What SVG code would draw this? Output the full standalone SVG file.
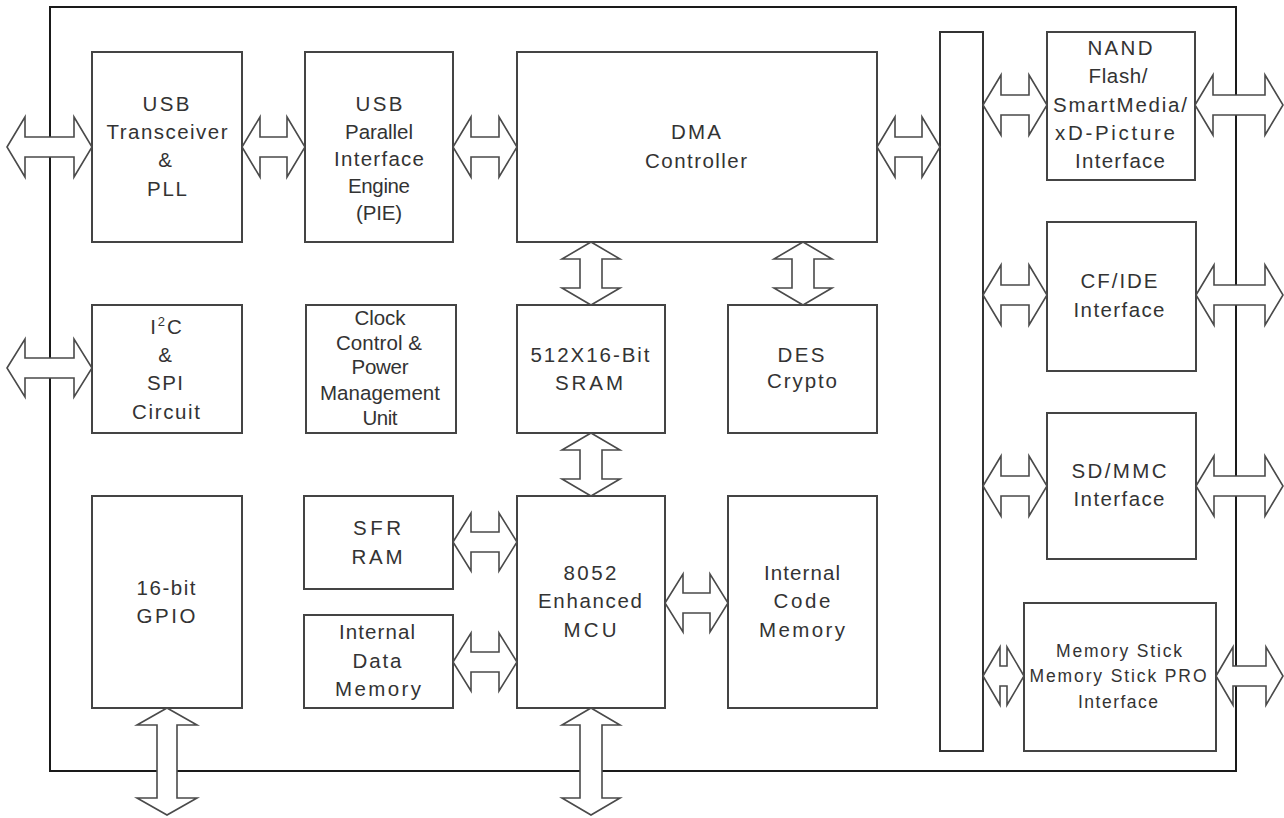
<svg xmlns="http://www.w3.org/2000/svg" width="1284" height="818" viewBox="0 0 1284 818">
<style>
.frame{fill:none;stroke:#1a1a1a;stroke-width:2}
.box{fill:#fff;stroke:#444;stroke-width:2}
.bus{fill:#fff;stroke:#333;stroke-width:2}
.arr{fill:#fff;stroke:#4a4a4a;stroke-width:1.6;stroke-linejoin:miter}
text{font-family:"Liberation Sans",Arial,sans-serif;font-size:20.5px;fill:#333;text-anchor:middle}
text.sm{font-size:17.5px}
</style>
<rect x="0" y="0" width="1284" height="818" fill="#fff"/>
<rect class="frame" x="50" y="7" width="1186" height="764"/>

<g id="bus"><rect class="bus" x="940" y="32" width="43" height="719"/></g>

<g id="usb-transceiver">
<rect class="box" x="92" y="52" width="150" height="190"/>
<text x="166" y="111" textLength="47" lengthAdjust="spacing">USB</text>
<text x="167" y="139" textLength="121" lengthAdjust="spacing">Transceiver</text>
<text x="165" y="167">&amp;</text>
<text x="167" y="196" textLength="40" lengthAdjust="spacing">PLL</text>
</g>

<g id="usb-pie">
<rect class="box" x="305" y="52" width="148" height="190"/>
<text x="379" y="111" textLength="47" lengthAdjust="spacing">USB</text>
<text x="379" y="139" textLength="68" lengthAdjust="spacing">Parallel</text>
<text x="379" y="166" textLength="90" lengthAdjust="spacing">Interface</text>
<text x="379" y="193" textLength="62" lengthAdjust="spacing">Engine</text>
<text x="379" y="220" textLength="46" lengthAdjust="spacing">(PIE)</text>
</g>

<g id="dma">
<rect class="box" x="517" y="52" width="360" height="190"/>
<text x="696" y="139" textLength="50" lengthAdjust="spacing">DMA</text>
<text x="696" y="168" textLength="102" lengthAdjust="spacing">Controller</text>
</g>

<g id="nand">
<rect class="box" x="1047" y="32" width="148" height="148"/>
<text x="1120" y="55" textLength="65" lengthAdjust="spacing">NAND</text>
<text x="1118" y="83" textLength="59" lengthAdjust="spacing">Flash/</text>
<text x="1120" y="112" textLength="134" lengthAdjust="spacing">SmartMedia/</text>
<text x="1115" y="140" textLength="120" lengthAdjust="spacing">xD-Picture</text>
<text x="1120" y="168" textLength="90" lengthAdjust="spacing">Interface</text>
</g>

<g id="i2c-spi">
<rect class="box" x="92" y="305" width="150" height="128"/>
<text x="166" y="334"><tspan>I</tspan><tspan font-size="13" dx="2" dy="-8">2</tspan><tspan dx="2" dy="8">C</tspan></text>
<text x="165" y="362">&amp;</text>
<text x="165" y="390" textLength="36" lengthAdjust="spacing">SPI</text>
<text x="166" y="419" textLength="68" lengthAdjust="spacing">Circuit</text>
</g>

<g id="clock-power">
<rect class="box" x="306" y="305" width="150" height="128"/>
<text x="380" y="325" textLength="51" lengthAdjust="spacing">Clock</text>
<text x="379" y="350" textLength="86" lengthAdjust="spacing">Control &amp;</text>
<text x="380" y="374" textLength="57" lengthAdjust="spacing">Power</text>
<text x="380" y="400" textLength="120" lengthAdjust="spacing">Management</text>
<text x="380" y="425" textLength="35" lengthAdjust="spacing">Unit</text>
</g>

<g id="sram">
<rect class="box" x="517" y="305" width="148" height="128"/>
<text x="590" y="362" textLength="119" lengthAdjust="spacing">512X16-Bit</text>
<text x="589" y="390" textLength="68" lengthAdjust="spacing">SRAM</text>
</g>

<g id="des">
<rect class="box" x="728" y="305" width="149" height="128"/>
<text x="801" y="362" textLength="47" lengthAdjust="spacing">DES</text>
<text x="802" y="388" textLength="70" lengthAdjust="spacing">Crypto</text>
</g>

<g id="cf-ide">
<rect class="box" x="1047" y="222" width="149" height="149"/>
<text x="1119" y="288" textLength="77" lengthAdjust="spacing">CF/IDE</text>
<text x="1119" y="317" textLength="91" lengthAdjust="spacing">Interface</text>
</g>

<g id="sd-mmc">
<rect class="box" x="1047" y="413" width="149" height="146"/>
<text x="1119" y="478" textLength="95" lengthAdjust="spacing">SD/MMC</text>
<text x="1119" y="506" textLength="91" lengthAdjust="spacing">Interface</text>
</g>

<g id="gpio">
<rect class="box" x="92" y="496" width="150" height="212"/>
<text x="166" y="595" textLength="59" lengthAdjust="spacing">16-bit</text>
<text x="166" y="623" textLength="59" lengthAdjust="spacing">GPIO</text>
</g>

<g id="sfr-ram">
<rect class="box" x="304" y="496" width="149" height="93"/>
<text x="377" y="535" textLength="48" lengthAdjust="spacing">SFR</text>
<text x="377" y="564" textLength="51" lengthAdjust="spacing">RAM</text>
</g>

<g id="internal-data-memory">
<rect class="box" x="304" y="615" width="149" height="93"/>
<text x="377" y="639" textLength="76" lengthAdjust="spacing">Internal</text>
<text x="377" y="668" textLength="49" lengthAdjust="spacing">Data</text>
<text x="378" y="696" textLength="86" lengthAdjust="spacing">Memory</text>
</g>

<g id="mcu">
<rect class="box" x="517" y="496" width="148" height="212"/>
<text x="590" y="580" textLength="53" lengthAdjust="spacing">8052</text>
<text x="590" y="608" textLength="104" lengthAdjust="spacing">Enhanced</text>
<text x="590" y="637" textLength="53" lengthAdjust="spacing">MCU</text>
</g>

<g id="internal-code-memory">
<rect class="box" x="728" y="496" width="149" height="212"/>
<text x="802" y="580" textLength="76" lengthAdjust="spacing">Internal</text>
<text x="802" y="608" textLength="57" lengthAdjust="spacing">Code</text>
<text x="802" y="637" textLength="86" lengthAdjust="spacing">Memory</text>
</g>

<g id="memory-stick">
<rect class="box" x="1024" y="603" width="192" height="148"/>
<text class="sm" x="1119" y="657" textLength="126" lengthAdjust="spacing">Memory Stick</text>
<text class="sm" x="1118" y="682" textLength="177" lengthAdjust="spacing">Memory Stick PRO</text>
<text class="sm" x="1118" y="708" textLength="80" lengthAdjust="spacing">Interface</text>
</g>

<g id="connectors">
<polygon class="arr" points="7,147 25,117 25,137 74,137 74,117 92,147 74,177 74,157 25,157 25,177"/>
<polygon class="arr" points="242,147 260,117 260,137 287,137 287,117 305,147 287,177 287,157 260,157 260,177"/>
<polygon class="arr" points="453,147 471,117 471,137 499,137 499,117 517,147 499,177 499,157 471,157 471,177"/>
<polygon class="arr" points="877,147 895,117 895,137 922,137 922,117 940,147 922,177 922,157 895,157 895,177"/>
<polygon class="arr" points="983,105 1001,75 1001,95 1029,95 1029,75 1047,105 1029,135 1029,115 1001,115 1001,135"/>
<polygon class="arr" points="1195,105 1213,75 1213,95 1265,95 1265,75 1283,105 1265,135 1265,115 1213,115 1213,135"/>
<polygon class="arr" points="983,295 1001,265 1001,285 1029,285 1029,265 1047,295 1029,325 1029,305 1001,305 1001,325"/>
<polygon class="arr" points="1196,295 1214,265 1214,285 1265,285 1265,265 1283,295 1265,325 1265,305 1214,305 1214,325"/>
<polygon class="arr" points="983,486 1001,456 1001,476 1029,476 1029,456 1047,486 1029,516 1029,496 1001,496 1001,516"/>
<polygon class="arr" points="1196,486 1214,456 1214,476 1265,476 1265,456 1283,486 1265,516 1265,496 1214,496 1214,516"/>
<polygon class="arr" points="983,676 1000,647 1000,666 1007,666 1007,647 1024,676 1007,705 1007,686 1000,686 1000,705"/>
<polygon class="arr" points="1216,676 1233,647 1233,666 1266,666 1266,647 1283,676 1266,705 1266,686 1233,686 1233,705"/>
<polygon class="arr" points="7,368 25,339 25,358 74,358 74,339 92,368 74,397 74,378 25,378 25,397"/>
<polygon class="arr" points="453,542 471,513 471,532 499,532 499,513 517,542 499,571 499,552 471,552 471,571"/>
<polygon class="arr" points="453,662 471,633 471,652 499,652 499,633 517,662 499,691 499,672 471,672 471,691"/>
<polygon class="arr" points="665,603 683,574 683,593 710,593 710,574 728,603 710,632 710,613 683,613 683,632"/>
<polygon class="arr" points="591,242 620,259 602,259 602,288 620,288 591,305 562,288 580,288 580,259 562,259"/>
<polygon class="arr" points="803,242 832,259 814,259 814,288 832,288 803,305 774,288 792,288 792,259 774,259"/>
<polygon class="arr" points="591,433 620,450 602,450 602,479 620,479 591,496 562,479 580,479 580,450 562,450"/>
<polygon class="arr" points="167,708 197,725 177,725 177,798 197,798 167,815 137,798 157,798 157,725 137,725"/>
<polygon class="arr" points="591,708 620,725 602,725 602,798 620,798 591,815 562,798 580,798 580,725 562,725"/>
</g>
</svg>
